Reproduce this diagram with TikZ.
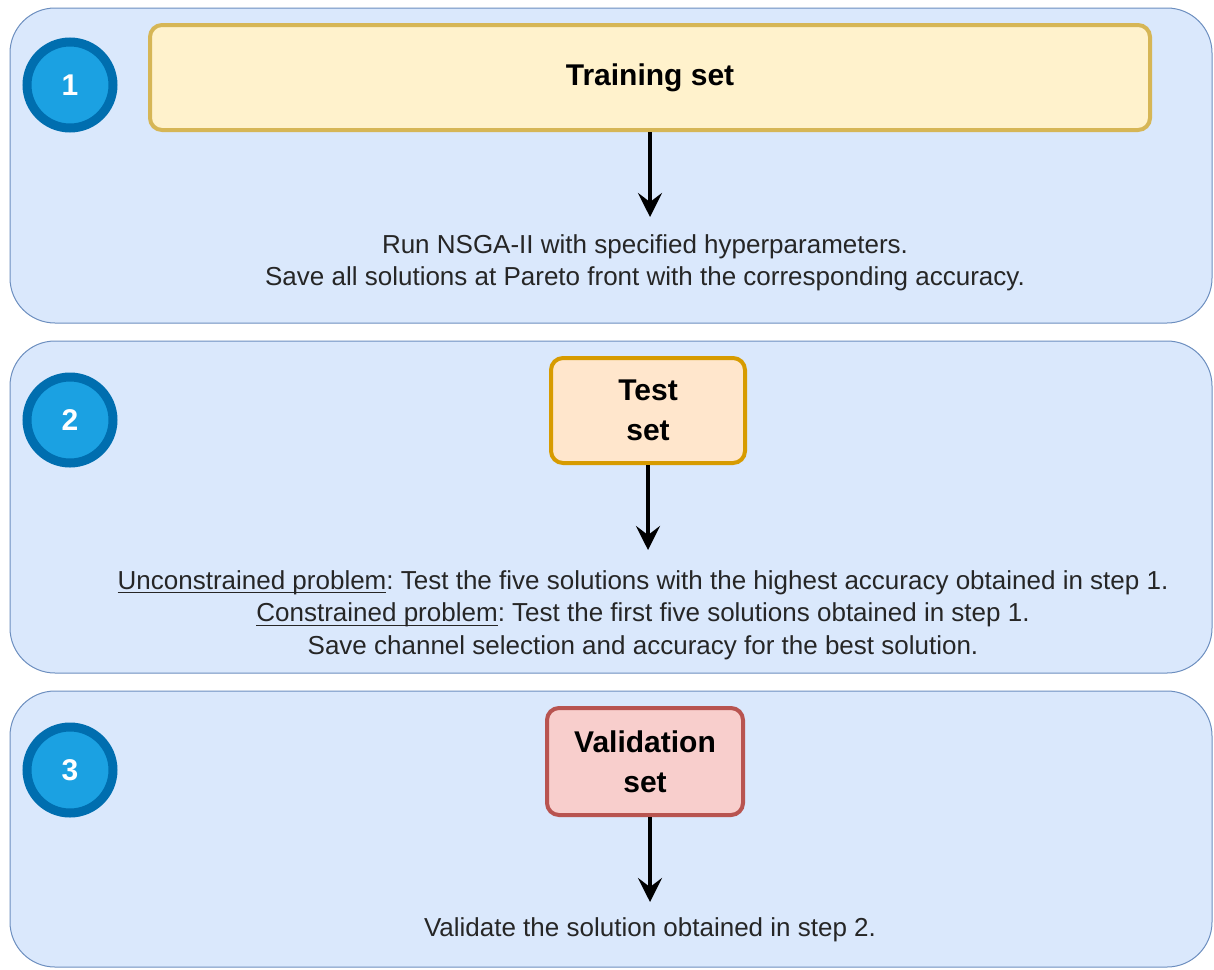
\documentclass[tikz,border=0pt]{standalone}
\usepackage{fontspec}
\setmainfont{Liberation Sans}
\usetikzlibrary{arrows.meta}
\newcommand\myul[1]{\leavevmode\vtop{\hbox{#1}\kern-2.5pt\hrule height 1pt}}
\definecolor{panelfill}{HTML}{DAE8FC}
\definecolor{paneldraw}{HTML}{6C8EBF}
\definecolor{circfill}{HTML}{1BA1E2}
\definecolor{circdraw}{HTML}{006EAF}
\definecolor{yfill}{HTML}{FFF2CC}
\definecolor{ydraw}{HTML}{D6B656}
\definecolor{ofill}{HTML}{FFE6CC}
\definecolor{odraw}{HTML}{D79B00}
\definecolor{rfill}{HTML}{F8CECC}
\definecolor{rdraw}{HTML}{B85450}
\definecolor{txt}{HTML}{262626}
\tikzset{
  panel/.style={draw=paneldraw, fill=panelfill, line width=1pt, rounded corners=45pt},
  stepcirc/.style={circle, draw=circdraw, fill=circfill, line width=9pt, minimum size=86pt, inner sep=0pt, text=white, font=\fontsize{30}{36}\selectfont\bfseries},
  setbox/.style={rounded corners=12pt, line width=4pt, align=center, inner sep=0pt, font=\fontsize{30}{40}\selectfont\bfseries},
  flow/.style={-{Stealth[length=24pt,width=24pt,inset=9pt]}, line width=4pt, black},
  desc/.style={align=center, text=txt, font=\fontsize{26}{32.5}\selectfont\frenchspacing}
}
\begin{document}
\begin{tikzpicture}[x=1pt,y=-1pt]
\useasboundingbox (0,0) rectangle (1214,969);
% panels
\draw[panel] (10,8) rectangle (1212,323);
\draw[panel] (10,341) rectangle (1212,673);
\draw[panel] (10,691) rectangle (1212,967);
% circles
\node[stepcirc] (c1) at (70,85) {1};
\node[stepcirc] (c2) at (70,420) {2};
\node[stepcirc] (c3) at (70,770) {3};
% boxes
\node[setbox, draw=ydraw, fill=yfill, minimum width=1000pt, minimum height=105pt] (train) at (650,77.5) {Training set};
\node[setbox, draw=odraw, fill=ofill, minimum width=194pt, minimum height=105pt] (test) at (648,410.5) {Test\\set};
\node[setbox, draw=rdraw, fill=rfill, minimum width=196pt, minimum height=107pt] (valid) at (645,761.5) {Validation\\set};
% descriptions
\coordinate (a1) at (650,217);
\coordinate (a2) at (648,550);
\coordinate (a3) at (650,902);
\node[desc] (d1) at (645,263) {Run NSGA-II with specified hyperparameters.\\Save all solutions at Pareto front with the corresponding accuracy.};
\node[desc] (d2) at (643,615) {\myul{Unconstrained problem}: Test the five solutions with the highest accuracy obtained in step 1.\\\myul{Constrained problem}: Test the first five solutions obtained in step 1.\\Save channel selection and accuracy for the best solution.};
\node[desc] (d3) at (650,930) {Validate the solution obtained in step 2.};
% arrows
\draw[flow] (train.south -| a1) -- (a1);
\draw[flow] (test.south -| a2) -- (a2);
\draw[flow] (valid.south -| a3) -- (a3);
\end{tikzpicture}
\end{document}
